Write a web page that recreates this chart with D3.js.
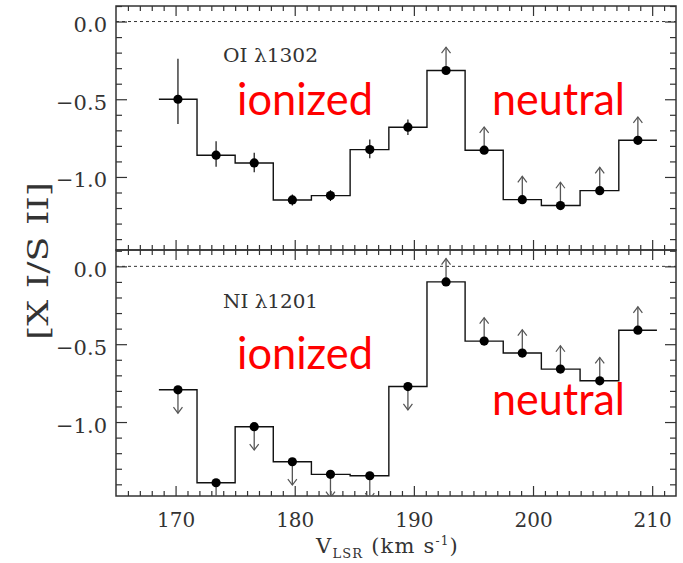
<!DOCTYPE html>
<html><head><meta charset="utf-8">
<script src="https://cdn.jsdelivr.net/npm/d3@7"></script>
<style>body{margin:0;background:#fff} svg{display:block}</style>
</head><body><svg id="c" width="683" height="563"></svg>
<script>
// ---------- data ----------
const velocity = [170.2,173.4,176.6,179.8,183.0,186.3,189.5,192.7,195.9,199.1,202.3,205.6,208.8];
// O I / S II
const oiValues  = [-0.50,-0.86,-0.91,-1.148,-1.12,-0.824,-0.68,-0.315,-0.828,-1.146,-1.184,-1.088,-0.764];
const oiErrUp   = [0.26,0.09,0.065,0.035,0.035,0.065,0.05,0,0,0,0,0,0];
const oiErrDown = [0.16,0.075,0.06,0.035,0.035,0.055,0.05,0,0,0,0,0,0];
const oiKind    = ["det","det","det","det","det","det","det","lower","lower","lower","lower","lower","lower"];
// N I / S II
const niValues  = [-0.793,-1.39,-1.03,-1.255,-1.336,-1.345,-0.772,-0.10,-0.48,-0.557,-0.66,-0.735,-0.41];
const niKind    = ["upper","upper","upper","upper","upper","upper","upper","lower","lower","lower","lower","lower","lower"];
const limitLength = 0.15;   // arrow length in dex
const xMajorTicks = [170,180,190,200,210];
const xMinorTicks = d3.range(166,212,1);
const yMajorTicks = [0,-0.5,-1.0];
const yMinorTicks = [0.1,0,-0.1,-0.2,-0.3,-0.4,-0.5,-0.6,-0.7,-0.8,-0.9,-1.0,-1.1,-1.2,-1.3,-1.4];
const panelLabels = ["OI \u03BB1302","NI \u03BB1201"];
const regionLabels = ["ionized","neutral"];
const xDomain = [165,212];

// ---------- layout ----------
const svg = d3.select("#c");
const L = 116, R = 676;
const panels = [
  {top:6,  bottom:250, yDomain:[-1.47,0.1], values:oiValues, kind:oiKind, up:oiErrUp, dn:oiErrDown, label:panelLabels[0],
   labelPos:[223,62], ionPos:[237,115], neuPos:[492,115]},
  {top:250, bottom:496, yDomain:[-1.475,0.105], values:niValues, kind:niKind, up:null, dn:null, label:panelLabels[1],
   labelPos:[223,308], ionPos:[237,369], neuPos:[492,415]}
];
const x = d3.scaleLinear().domain(xDomain).range([L,R]);
const axisColor = "#333";
const serif = "'DejaVu Serif', serif";

// bin edges from the velocity centres
const halfW = (velocity[1]-velocity[0])/2;
const edges = velocity.map((v,i)=> i===0 ? v-halfW : (velocity[i-1]+v)/2);
edges.push(velocity[velocity.length-1]+halfW);

panels.forEach((p,pi)=>{
  const y = d3.scaleLinear().domain(p.yDomain).range([p.bottom,p.top]);
  const g = svg.append("g");
  const clipId = "clip"+pi;
  svg.append("clipPath").attr("id",clipId).append("rect")
     .attr("x",L).attr("y",p.top).attr("width",R-L).attr("height",p.bottom-p.top);

  // zero line
  g.append("line").attr("x1",L).attr("x2",R).attr("y1",y(0)).attr("y2",y(0))
   .attr("stroke",axisColor).attr("stroke-width",1).attr("stroke-dasharray","3,3");

  const styleAxis = sel => { sel.select(".domain").remove(); sel.selectAll("line").attr("stroke",axisColor).attr("stroke-width",1.2); };
  // left
  g.append("g").attr("transform",`translate(${L},0)`)
    .call(d3.axisLeft(y).tickValues(yMinorTicks.filter(v=>!yMajorTicks.includes(v))).tickSize(-6).tickFormat(""))
    .call(styleAxis);
  g.append("g").attr("transform",`translate(${L},0)`)
    .call(d3.axisLeft(y).tickValues(yMajorTicks).tickSize(-11).tickPadding(9)
          .tickFormat(d=> (d<0?"\u2212":"") + Math.abs(d).toFixed(1)))
    .call(styleAxis)
    .call(s=>s.selectAll("text").attr("dy",10).attr("font-family",serif).attr("font-size",21).attr("fill",axisColor));
  // right
  g.append("g").attr("transform",`translate(${R},0)`)
    .call(d3.axisRight(y).tickValues(yMinorTicks.filter(v=>!yMajorTicks.includes(v))).tickSize(-6).tickFormat(""))
    .call(styleAxis);
  g.append("g").attr("transform",`translate(${R},0)`)
    .call(d3.axisRight(y).tickValues(yMajorTicks).tickSize(-11).tickFormat(""))
    .call(styleAxis);
  // top & bottom
  const xMinorOnly = xMinorTicks.filter(v=>!xMajorTicks.includes(v));
  g.append("g").attr("transform",`translate(0,${p.top})`)
    .call(d3.axisTop(x).tickValues(xMinorOnly).tickSize(-5).tickFormat("")).call(styleAxis);
  g.append("g").attr("transform",`translate(0,${p.top})`)
    .call(d3.axisTop(x).tickValues(xMajorTicks).tickSize(-10).tickFormat("")).call(styleAxis);
  g.append("g").attr("transform",`translate(0,${p.bottom})`)
    .call(d3.axisBottom(x).tickValues(xMinorOnly).tickSize(-5).tickFormat("")).call(styleAxis);
  const xb = g.append("g").attr("transform",`translate(0,${p.bottom})`)
    .call(d3.axisBottom(x).tickValues(xMajorTicks).tickSize(-10)
          .tickFormat(pi===1 ? d3.format("d") : ""))
    .call(styleAxis);
  xb.selectAll("text").attr("y",31).attr("dy",0).attr("font-family",serif).attr("font-size",20).attr("fill",axisColor);

  // frame
  g.append("rect").attr("x",L).attr("y",p.top).attr("width",R-L).attr("height",p.bottom-p.top)
   .attr("fill","none").attr("stroke",axisColor).attr("stroke-width",1.5);

  // step histogram
  const stepPts = [];
  p.values.forEach((v,i)=>{ stepPts.push([edges[i],v]); stepPts.push([edges[i+1],v]); });
  g.append("path").datum(stepPts)
   .attr("d", d3.line().x(d=>x(d[0])).y(d=>y(d[1])))
   .attr("fill","none").attr("stroke","#111").attr("stroke-width",1.4);

  const marks = g.append("g").attr("clip-path",`url(#${clipId})`);
  p.values.forEach((v,i)=>{
    if(p.kind[i]==="det"){
      marks.append("line").attr("x1",x(velocity[i])).attr("x2",x(velocity[i]))
        .attr("y1",y(v+p.up[i])).attr("y2",y(v-p.dn[i]))
        .attr("stroke","#111").attr("stroke-width",1.2);
    } else {
      const dir = p.kind[i]==="lower" ? 1 : -1;
      const tipV = v + dir*limitLength;
      const cx = x(velocity[i]), ty = y(tipV);
      marks.append("line").attr("x1",cx).attr("x2",cx).attr("y1",y(v)).attr("y2",ty)
        .attr("stroke","#555").attr("stroke-width",1.3);
      const hs = 6*dir;
      marks.append("path")
        .attr("d",`M${cx-4.5},${ty+hs} L${cx},${ty} L${cx+4.5},${ty+hs}`)
        .attr("fill","none").attr("stroke","#555").attr("stroke-width",1.2);
    }
  });
  marks.selectAll("circle").data(p.values).join("circle")
    .attr("cx",(d,i)=>x(velocity[i])).attr("cy",d=>y(d)).attr("r",4.6).attr("fill","#000");

  g.append("text").attr("x",p.labelPos[0]).attr("y",p.labelPos[1])
   .attr("font-family",serif).attr("font-size",18).attr("fill",axisColor)
   .attr("textLength",95).attr("lengthAdjust","spacingAndGlyphs").text(p.label);
  g.append("text").attr("x",p.ionPos[0]).attr("y",p.ionPos[1])
   .attr("font-family","Lato, sans-serif").attr("font-size",44).attr("fill","#ff0000")
   .attr("textLength",136).attr("lengthAdjust","spacingAndGlyphs").text(regionLabels[0]);
  g.append("text").attr("x",p.neuPos[0]).attr("y",p.neuPos[1])
   .attr("font-family","Lato, sans-serif").attr("font-size",44).attr("fill","#ff0000")
   .attr("textLength",133).attr("lengthAdjust","spacingAndGlyphs").text(regionLabels[1]);
});

// y-axis title
svg.append("text").attr("transform","translate(38,261) rotate(-90)")
  .attr("text-anchor","middle").attr("dominant-baseline","central")
  .attr("font-family",serif).attr("font-size",28).attr("fill",axisColor)
  .attr("textLength",158).attr("lengthAdjust","spacingAndGlyphs")
  .text("[X I/S II]");

// x-axis title
const xt = svg.append("text").attr("x",316).attr("y",553)
  .attr("font-family",serif).attr("font-size",21).attr("fill",axisColor)
  .attr("letter-spacing",1.2);
xt.append("tspan").text("V");
xt.append("tspan").attr("font-size",13).attr("dy",5).text("LSR");
xt.append("tspan").attr("dy",-5).text(" (km s");
xt.append("tspan").attr("font-size",12).attr("dy",-8).text("-1");
xt.append("tspan").attr("dy",8).text(")");
</script></body></html>
